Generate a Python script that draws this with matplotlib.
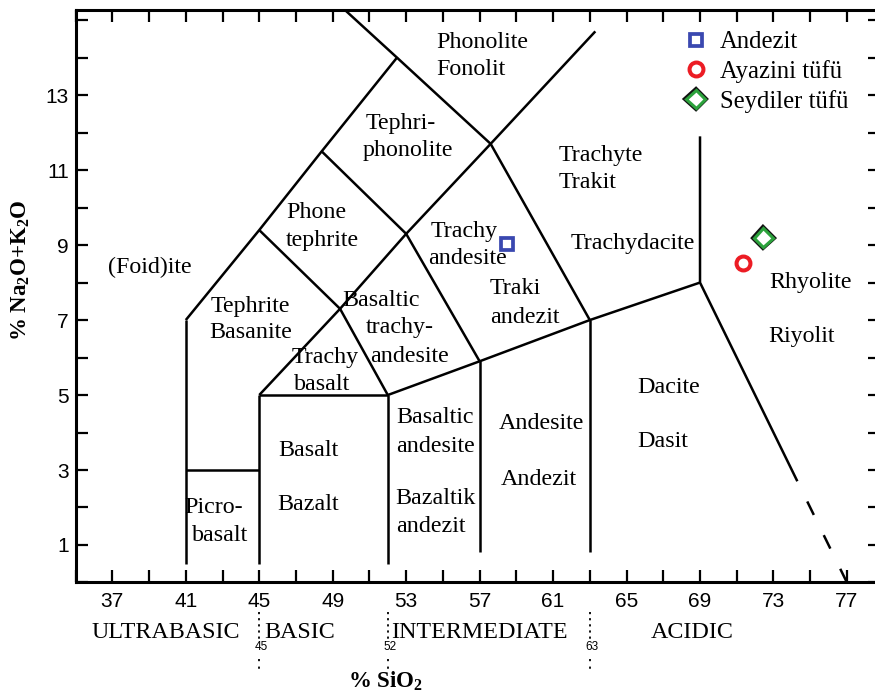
import matplotlib
matplotlib.use("Agg")
import matplotlib.pyplot as plt
import matplotlib.patheffects as pe
from matplotlib.ticker import FixedLocator

plt.rcParams['mathtext.default'] = 'regular'

# ---------------- data ----------------
# TAS field boundaries (SiO2, Na2O+K2O)
picro_left_x = [41, 41]
picro_left_y = [0.5, 7]
tephrite_base_x = [41, 45]
tephrite_base_y = [3, 3]
basalt_left_x = [45, 45]
basalt_left_y = [0.5, 5]
basalt_top_x = [45, 52]
basalt_top_y = [5, 5]
basalt_right_x = [52, 52]
basalt_right_y = [0.5, 5]
lower_alk_x = [52, 57, 63, 69]
lower_alk_y = [5, 5.9, 7, 8]
and57_x = [57, 57]
and57_y = [0.8, 5.9]
and63_x = [63, 63]
and63_y = [0.8, 7]
trachybasalt_x = [45, 49.4, 52]
trachybasalt_y = [5, 7.3, 5]
foidite_x = [41, 45, 48.4, 52.5, 49.6]
foidite_y = [7, 9.4, 11.5, 14, 15.3]
phonotephrite_x = [45, 49.4, 53, 57.6, 63.3]
phonotephrite_y = [9.4, 7.3, 9.3, 11.7, 14.7]
tephriphon_x = [48.4, 53, 57]
tephriphon_y = [11.5, 9.3, 5.9]
phonolite_x = [52.5, 57.6, 63]
phonolite_y = [14, 11.7, 7]
rhyolite_line_x = [69, 69, 74.3]
rhyolite_line_y = [11.9, 8, 2.7]
rhyolite_dash_x = [74.3, 77.0]
rhyolite_dash_y = [2.7, 0.0]

# samples
andezit_x = [58.5]
andezit_y = [9.03]
ayazini_x = [71.35]
ayazini_y = [8.52]
seydiler_x = [72.45]
seydiler_y = [9.2]
legend_labels = ["Andezit", "Ayazini tüfü", "Seydiler tüfü"]

# field names: (text, x, y, ha)
field_labels = [
    ("Phonolite", 54.64, 14.41, 'left'), ("Fonolit", 54.64, 13.67, 'left'),
    ("Tephri-", 52.68, 12.25, 'center'), ("phonolite", 53.11, 11.51, 'center'),
    ("Trachyte", 61.29, 11.4, 'left'), ("Trakit", 61.29, 10.68, 'left'),
    ("Phone", 48.1, 9.88, 'center'), ("tephrite", 48.43, 9.13, 'center'),
    ("Trachy", 54.31, 9.37, 'left'), ("andesite", 54.2, 8.65, 'left'),
    ("Trachydacite", 61.95, 9.03, 'left'),
    ("(Foid)ite", 39.05, 8.41, 'center'),
    ("Tephrite", 44.5, 7.37, 'center'), ("Basanite", 44.55, 6.68, 'center'),
    ("Basaltic", 51.64, 7.53, 'center'), ("trachy-", 52.68, 6.79, 'center'),
    ("andesite", 53.17, 6.04, 'center'),
    ("Traki", 58.95, 7.83, 'center'), ("andezit", 59.44, 7.08, 'center'),
    ("Trachy", 48.59, 6.01, 'center'), ("basalt", 48.43, 5.29, 'center'),
    ("Rhyolite", 75.02, 8.01, 'center'), ("Riyolit", 74.54, 6.57, 'center'),
    ("Dacite", 67.28, 5.19, 'center'), ("Dasit", 66.95, 3.75, 'center'),
    ("Basalt", 47.66, 3.53, 'center'), ("Bazalt", 47.66, 2.07, 'center'),
    ("Basaltic", 54.59, 4.39, 'center'), ("andesite", 54.59, 3.64, 'center'),
    ("Bazaltik", 54.59, 2.23, 'center'), ("andezit", 54.37, 1.48, 'center'),
    ("Andesite", 60.36, 4.25, 'center'), ("Andezit", 60.2, 2.76, 'center'),
    ("Picro-", 42.49, 2.01, 'center'), ("basalt", 42.87, 1.24, 'center'),
]

x_ticks = list(range(37, 78, 4))
x_minor = list(range(35, 80, 2))
y_ticks = list(range(1, 14, 2))
y_minor = list(range(0, 16, 1))

groups = ["ULTRABASIC", "BASIC", "INTERMEDIATE", "ACIDIC"]
group_centers = [39.9, 47.2, 57.0, 68.6]
group_bounds = [45, 52, 63]

# ---------------- figure ----------------
fig = plt.figure(figsize=(8.75, 6.95), dpi=100)
ax = fig.add_axes([0.0864, 0.1619, 1.0057 - 0.0864, 0.9856 - 0.1619])
ax.set_xlim(35, 78.8)
ax.set_ylim(0, 15.27)

serif = ['Liberation Serif', 'DejaVu Serif']
sans = ['Liberation Sans', 'DejaVu Sans']
fs = 17.3

lw = 1.8
for xs, ys in [(picro_left_x, picro_left_y), (tephrite_base_x, tephrite_base_y),
               (basalt_left_x, basalt_left_y), (basalt_top_x, basalt_top_y),
               (basalt_right_x, basalt_right_y), (lower_alk_x, lower_alk_y),
               (and57_x, and57_y), (and63_x, and63_y),
               (trachybasalt_x, trachybasalt_y), (foidite_x, foidite_y),
               (phonotephrite_x, phonotephrite_y), (tephriphon_x, tephriphon_y),
               (phonolite_x, phonolite_y), (rhyolite_line_x, rhyolite_line_y)]:
    ax.plot(xs, ys, color='black', lw=lw, solid_capstyle='butt')
ax.plot(rhyolite_dash_x, rhyolite_dash_y, color='black', lw=lw,
        linestyle=(6, (6, 9)))

for t, x, y, ha in field_labels:
    ax.text(x, y, t, ha=ha, va='center', fontsize=fs, family=serif)

# samples
h1, = ax.plot(andezit_x, andezit_y, ls='none', marker='s', ms=9,
              mfc='white', mec='#3a48b0', mew=2.7)
h2, = ax.plot(ayazini_x, ayazini_y, ls='none', marker='o', ms=10,
              mfc='white', mec='#ec1c24', mew=2.9)
h3, = ax.plot(seydiler_x, seydiler_y, ls='none', marker='D', ms=9.5,
              mfc='white', mec='#2ca23c', mew=2.2,
              path_effects=[pe.Stroke(linewidth=4.0, foreground='#111111'), pe.Normal()])

ax.legend([h1, h2, h3], legend_labels, loc='upper left',
          bbox_to_anchor=(684 / 875, 1 - 31 / 695), bbox_transform=fig.transFigure,
          frameon=False, borderpad=0, borderaxespad=0, handlelength=0.95,
          handletextpad=0.5, labelspacing=0.27,
          prop={'family': 'Liberation Serif', 'size': 17.8})

# axes styling
for s in ax.spines.values():
    s.set_linewidth(2.2)
ax.xaxis.set_major_locator(FixedLocator(x_ticks))
ax.xaxis.set_minor_locator(FixedLocator(x_minor))
ax.yaxis.set_major_locator(FixedLocator(y_ticks))
ax.yaxis.set_minor_locator(FixedLocator(y_minor))
ax.tick_params(which='both', direction='in', top=True, right=True,
               length=8.5, width=1.6)
ax.tick_params(axis='x', which='major', pad=7)
ax.tick_params(axis='y', which='major', pad=5)
for lab in ax.get_xticklabels() + ax.get_yticklabels():
    lab.set_family(sans)
    lab.set_fontsize(15)

fig.text(21 / 875, 1 - 270 / 695, '% Na$_{2}$O+K$_{2}$O', rotation=90,
         ha='center', va='center', family=serif, fontweight='bold', fontsize=16.5)

# bottom classification labels
for name, xc in zip(groups, group_centers):
    ax.text(xc, -1.33, name, ha='center', va='center', fontsize=fs,
            family=serif, clip_on=False)
for b in group_bounds:
    ax.plot([b, b], [-0.8, -1.5], clip_on=False,
            color='black', lw=1.3, linestyle=(0, (1.2, 2.2)))
    ax.text(b + 0.12, -1.72, str(b), ha='center', va='center', fontsize=8.5,
            family=sans, clip_on=False)
    ax.plot([b, b], [-2.05, -2.4], clip_on=False,
            color='black', lw=1.3, linestyle=(0, (1.2, 3.0)))
ax.text(51.86, -2.63, '% SiO$_{2}$', ha='center', va='center', fontsize=16.5,
        family=serif, fontweight='bold', clip_on=False)

fig.savefig('out.png', dpi=100)
